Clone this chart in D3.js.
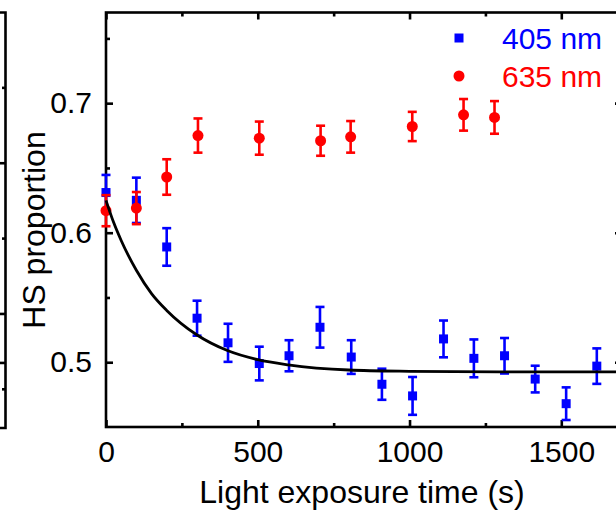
<!DOCTYPE html>
<html>
<head>
<meta charset="utf-8">
<script src="https://cdn.jsdelivr.net/npm/d3@7"></script>
<style>
  html, body { margin: 0; padding: 0; background: #fff; }
  svg { display: block; }
  text { font-family: "Liberation Sans", Arial, sans-serif; }
</style>
</head>
<body>
<svg id="chart" width="616" height="510"></svg>
<script>
// ---- data ----
const blueTime = [0, 100, 200, 300, 402, 505, 603, 705, 808, 909, 1010, 1112, 1212, 1313, 1414, 1516, 1617];
const blueValue = [0.631, 0.625, 0.589, 0.534, 0.515, 0.499, 0.505, 0.527, 0.504, 0.483, 0.474, 0.518, 0.503, 0.505, 0.487, 0.468, 0.497];
const blueError = [0.0136, 0.0175, 0.0145, 0.0135, 0.0147, 0.013, 0.012, 0.0157, 0.013, 0.012, 0.0146, 0.0142, 0.0146, 0.0137, 0.0103, 0.0126, 0.0137];

const redTime = [0, 100, 200, 303, 505, 707, 806, 1009, 1178, 1280];
const redValue = [0.617, 0.619, 0.643, 0.675, 0.673, 0.671, 0.674, 0.682, 0.691, 0.689];
const redError = [0.012, 0.0124, 0.0137, 0.0132, 0.0128, 0.0116, 0.0122, 0.0113, 0.0122, 0.0126];

// fitted decay curve
const fitTime = [0, 25, 50, 100, 150, 200, 300, 400, 500, 600, 800, 1000, 1300, 1700];
const fitValue = [0.625, 0.608, 0.594, 0.571, 0.553, 0.540, 0.521, 0.509, 0.502, 0.498, 0.494, 0.493, 0.4925, 0.4925];

const xTicks = [0, 500, 1000, 1500];
const xMinorTicks = [250, 750, 1250];
const yTicks = [0.5, 0.6, 0.7];
const yMinorTicks = [0.55, 0.65, 0.75];
const legendLabels = ["405 nm", "635 nm"];
const xTitle = "Light exposure time (s)";
const yTitle = "HS proportion";

// neighbouring panel (cropped) right-axis ticks
const leftPanelMajor = [0.8, 0.6, 0.535];
const leftPanelMinor = [0.9, 0.7, 0.5];

// ---- layout ----
const svg = d3.select("#chart");
const L = 106, R = 622, T = 12.5, B = 427;
const x = d3.scaleLinear().domain([0, 1700]).range([L, R]);
const y = d3.scaleLinear().domain([0.45, 0.77]).range([B, T]);
const yLeft = d3.scaleLinear().domain([0.45, 1.0]).range([B, T]);

const BLUE = "#0000ff", RED = "#ff0000";
const AXW = 2.6;

// neighbouring panel fragment
const frag = svg.append("g");
frag.append("path").attr("d", `M-2,${T}H5.5V${B+1}H-2`).attr("fill", "none")
  .attr("stroke", "#000").attr("stroke-width", AXW);
leftPanelMajor.forEach(v => frag.append("line").attr("x1", 5.5).attr("x2", -1)
  .attr("y1", yLeft(v)).attr("y2", yLeft(v)).attr("stroke", "#000").attr("stroke-width", AXW));
leftPanelMinor.forEach(v => frag.append("line").attr("x1", 5.5).attr("x2", 2)
  .attr("y1", yLeft(v)).attr("y2", yLeft(v)).attr("stroke", "#000").attr("stroke-width", AXW));

// axes with inward ticks
function addAxis(axisGen, tf) {
  const g = svg.append("g").attr("transform", tf).call(axisGen);
  g.select(".domain").remove();
  g.selectAll("line").attr("stroke", "#000").attr("stroke-width", AXW);
  g.selectAll("text").attr("fill", "#000").style("font-size", "30px");
  return g;
}
const MAJ = 7, MIN = 4;
// bottom
addAxis(d3.axisBottom(x).tickValues(xTicks).tickFormat(d3.format("d")).tickSize(-MAJ).tickPadding(14), `translate(0,${B})`);
addAxis(d3.axisBottom(x).tickValues(xMinorTicks).tickFormat("").tickSize(-MIN), `translate(0,${B})`);
// top
addAxis(d3.axisTop(x).tickValues(xTicks).tickFormat("").tickSize(-MAJ), `translate(0,${T})`);
addAxis(d3.axisTop(x).tickValues(xMinorTicks).tickFormat("").tickSize(-MIN), `translate(0,${T})`);
// left
addAxis(d3.axisLeft(y).tickValues(yTicks).tickFormat(d3.format(".1f")).tickSize(-MAJ).tickPadding(14), `translate(${L},0)`);
addAxis(d3.axisLeft(y).tickValues(yMinorTicks).tickFormat("").tickSize(-MIN), `translate(${L},0)`);
// right
addAxis(d3.axisRight(y).tickValues(yTicks).tickFormat("").tickSize(-MAJ), `translate(${R},0)`);
addAxis(d3.axisRight(y).tickValues(yMinorTicks).tickFormat("").tickSize(-MIN), `translate(${R},0)`);

// frame
svg.append("rect").attr("x", L).attr("y", T).attr("width", R - L).attr("height", B - T)
  .attr("fill", "none").attr("stroke", "#000").attr("stroke-width", AXW);

// error bars + markers
function errorBars(times, vals, errs, color) {
  const g = svg.append("g").attr("stroke", color).attr("stroke-width", 2.6).attr("fill", "none");
  times.forEach((t, i) => {
    const cx = x(t), y1 = y(vals[i] + errs[i]), y2 = y(vals[i] - errs[i]);
    g.append("line").attr("x1", cx).attr("x2", cx).attr("y1", y1).attr("y2", y2);
    g.append("line").attr("x1", cx - 4.5).attr("x2", cx + 4.5).attr("y1", y1).attr("y2", y1);
    g.append("line").attr("x1", cx - 4.5).attr("x2", cx + 4.5).attr("y1", y2).attr("y2", y2);
  });
}
errorBars(blueTime, blueValue, blueError, BLUE);
svg.append("g").selectAll("rect").data(blueTime).join("rect")
  .attr("x", d => x(d) - 4.5).attr("y", (d, i) => y(blueValue[i]) - 4.5)
  .attr("width", 9).attr("height", 9).attr("fill", BLUE);

errorBars(redTime, redValue, redError, RED);
svg.append("g").selectAll("circle").data(redTime).join("circle")
  .attr("cx", d => x(d)).attr("cy", (d, i) => y(redValue[i])).attr("r", 5.5).attr("fill", RED);

// fit curve
const line = d3.line().x(d => x(d[0])).y(d => y(d[1])).curve(d3.curveMonotoneX);
svg.append("path").datum(fitTime.map((t, i) => [t, fitValue[i]]))
  .attr("d", line).attr("fill", "none").attr("stroke", "#000").attr("stroke-width", 2.8);

// legend
const leg = svg.append("g");
leg.append("rect").attr("x", 459 - 4.5).attr("y", 38 - 4.5).attr("width", 9).attr("height", 9).attr("fill", BLUE);
leg.append("circle").attr("cx", 459).attr("cy", 76).attr("r", 5.5).attr("fill", RED);
leg.append("text").attr("x", 502).attr("y", 49).attr("fill", BLUE).style("font-size", "30px").text(legendLabels[0]);
leg.append("text").attr("x", 502).attr("y", 87).attr("fill", RED).style("font-size", "30px").text(legendLabels[1]);

// titles
svg.append("text").attr("x", 362).attr("y", 503).attr("text-anchor", "middle")
  .style("font-size", "32px").attr("fill", "#000").text(xTitle);
svg.append("text").attr("transform", "translate(45,230) rotate(-90)").attr("text-anchor", "middle")
  .style("font-size", "32px").attr("fill", "#000").text(yTitle);
</script>
</body>
</html>
